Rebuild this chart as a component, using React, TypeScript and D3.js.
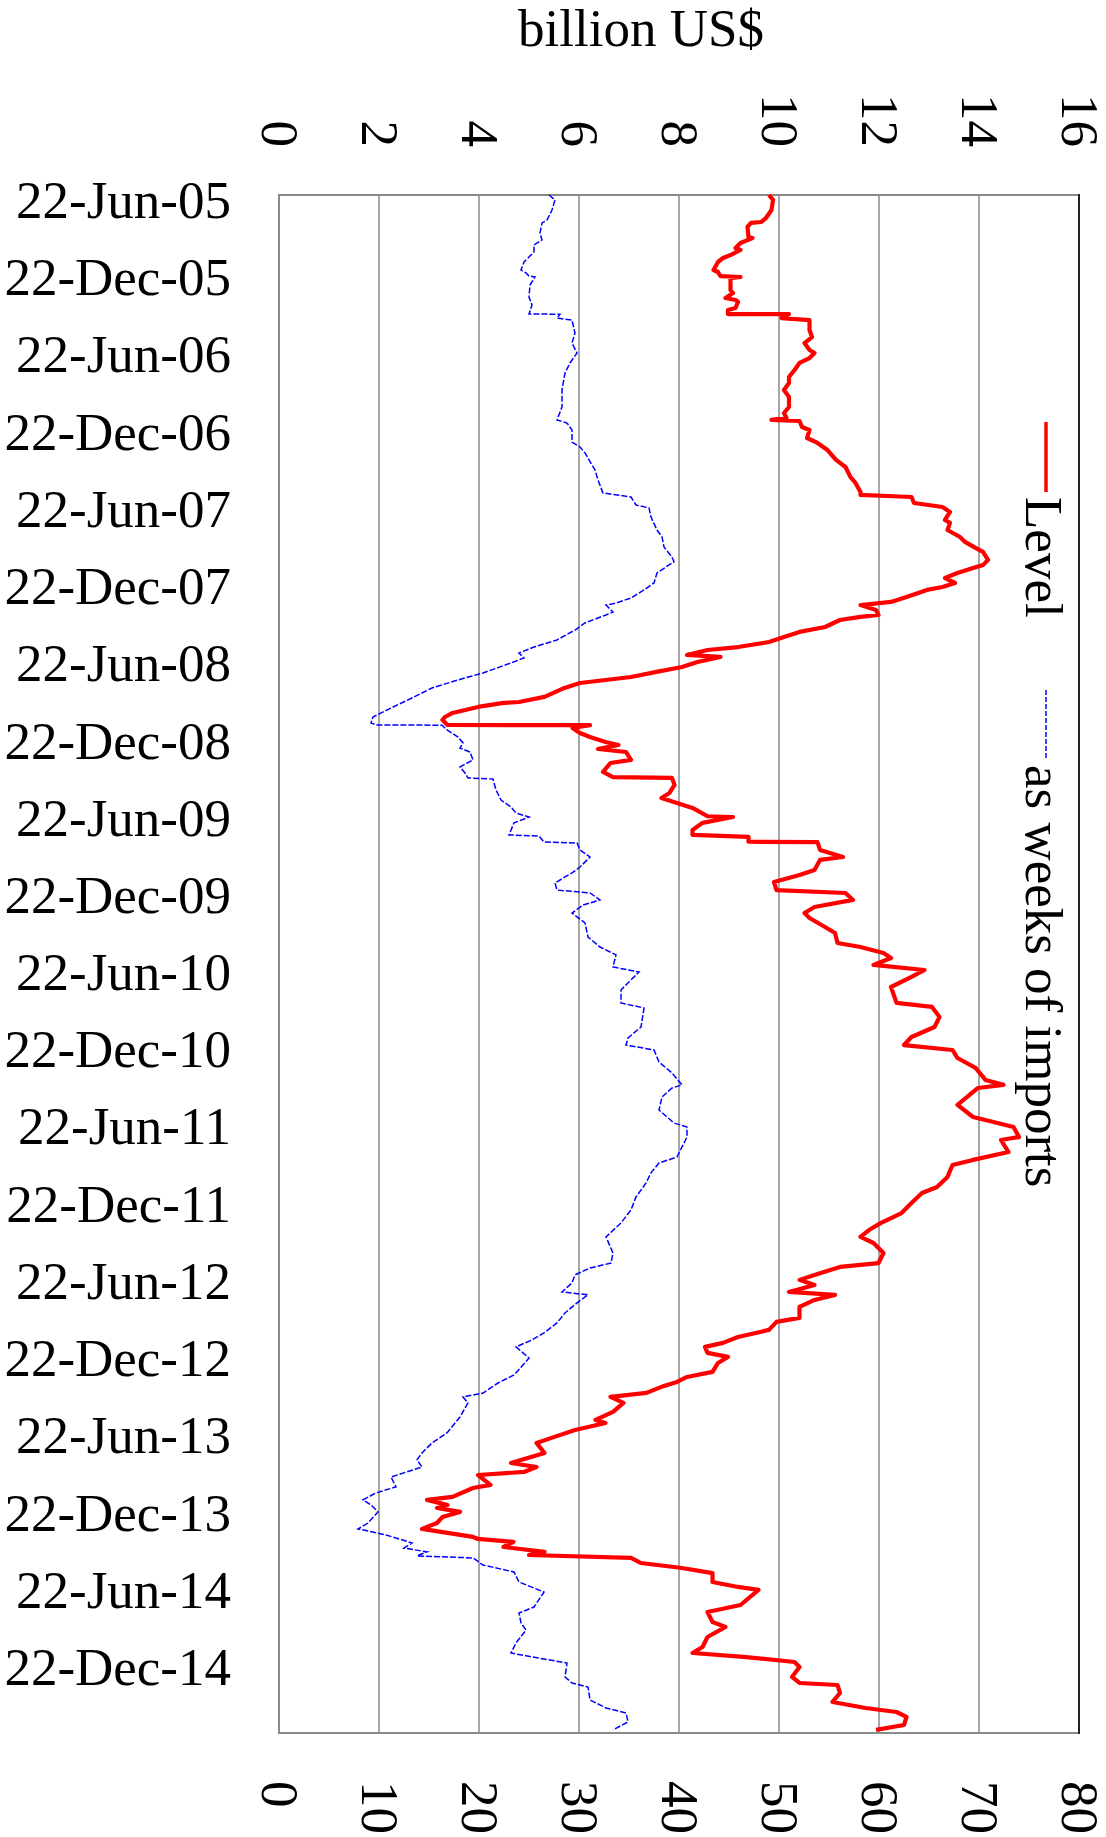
import React from "react";
import * as d3 from "d3";

// ---- data ----
const axisTitle = "billion US$";
const legendLabels = ["Level", "as weeks of imports"];

const dateTickLabels = [
  "22-Jun-05", "22-Dec-05", "22-Jun-06", "22-Dec-06", "22-Jun-07", "22-Dec-07",
  "22-Jun-08", "22-Dec-08", "22-Jun-09", "22-Dec-09", "22-Jun-10", "22-Dec-10",
  "22-Jun-11", "22-Dec-11", "22-Jun-12", "22-Dec-12", "22-Jun-13", "22-Dec-13",
  "22-Jun-14", "22-Dec-14",
];
const levelTicks = [0, 2, 4, 6, 8, 10, 12, 14, 16];
const weeksTicks = [0, 10, 20, 30, 40, 50, 60, 70, 80];
const timeDomain = [2005.471, 2015.433]; // decimal years

// Level, billion US$ : [decimal year, value]
const levelSeries: [number, number][] = [
  [2005.471, 9.80], [2005.503, 9.88], [2005.568, 9.85], [2005.620, 9.74], [2005.646, 9.64],
  [2005.652, 9.44], [2005.678, 9.37], [2005.743, 9.39], [2005.750, 9.47], [2005.782, 9.23],
  [2005.814, 9.13], [2005.827, 9.23], [2005.860, 9.03], [2005.879, 8.88], [2005.905, 8.78],
  [2005.957, 8.69], [2005.970, 8.78], [2005.996, 8.83], [2006.002, 9.23], [2006.009, 9.03],
  [2006.086, 9.03], [2006.106, 9.08], [2006.138, 8.93], [2006.151, 9.13], [2006.164, 9.18],
  [2006.203, 9.13], [2006.216, 8.98], [2006.242, 8.98], [2006.243, 10.20], [2006.268, 10.05],
  [2006.281, 10.61], [2006.345, 10.61], [2006.391, 10.66], [2006.430, 10.51], [2006.475, 10.61],
  [2006.494, 10.71], [2006.527, 10.61], [2006.559, 10.41], [2006.604, 10.31], [2006.650, 10.20],
  [2006.689, 10.20], [2006.734, 10.10], [2006.779, 10.20], [2006.844, 10.20], [2006.883, 10.10],
  [2006.915, 10.15], [2006.928, 9.85], [2006.935, 10.41], [2006.974, 10.46], [2006.993, 10.61],
  [2007.045, 10.56], [2007.077, 10.77], [2007.123, 10.97], [2007.187, 11.14], [2007.233, 11.33],
  [2007.298, 11.43], [2007.336, 11.53], [2007.395, 11.63], [2007.414, 11.63], [2007.427, 12.65],
  [2007.466, 12.70], [2007.492, 13.27], [2007.524, 13.42], [2007.576, 13.32], [2007.595, 13.42],
  [2007.641, 13.37], [2007.686, 13.62], [2007.718, 13.72], [2007.757, 13.93], [2007.783, 14.08],
  [2007.835, 14.18], [2007.867, 14.08], [2007.887, 13.88], [2007.919, 13.57], [2007.952, 13.32],
  [2007.984, 13.52], [2008.010, 13.27], [2008.029, 12.96], [2008.075, 12.55], [2008.107, 12.24],
  [2008.127, 11.63], [2008.159, 11.94], [2008.191, 11.99], [2008.204, 11.63], [2008.224, 11.22],
  [2008.269, 10.92], [2008.301, 10.41], [2008.334, 10.10], [2008.366, 9.80], [2008.399, 9.18],
  [2008.418, 8.57], [2008.450, 8.16], [2008.463, 8.83], [2008.496, 8.37], [2008.528, 8.06],
  [2008.560, 7.55], [2008.593, 7.04], [2008.632, 6.02], [2008.664, 5.71], [2008.722, 5.31],
  [2008.755, 4.80], [2008.761, 4.49], [2008.787, 3.98], [2008.826, 3.47], [2008.852, 3.32],
  [2008.871, 3.27], [2008.904, 3.37], [2008.905, 6.22], [2008.923, 5.87], [2008.956, 6.02],
  [2008.982, 6.22], [2009.014, 6.53], [2009.033, 6.79], [2009.059, 6.38], [2009.079, 6.94],
  [2009.130, 7.04], [2009.150, 6.63], [2009.208, 6.48], [2009.241, 6.68], [2009.247, 7.86],
  [2009.292, 7.91], [2009.344, 7.81], [2009.377, 7.65], [2009.409, 7.96], [2009.441, 8.27],
  [2009.495, 8.57], [2009.500, 9.08], [2009.538, 8.47], [2009.584, 8.27], [2009.616, 8.27],
  [2009.629, 9.39], [2009.660, 9.39], [2009.662, 10.77], [2009.713, 10.82], [2009.759, 11.28],
  [2009.778, 10.82], [2009.843, 10.71], [2009.875, 10.41], [2009.921, 9.90], [2009.973, 9.95],
  [2009.992, 11.33], [2010.037, 11.48], [2010.083, 10.71], [2010.122, 10.51], [2010.154, 10.61],
  [2010.212, 10.92], [2010.251, 11.12], [2010.316, 11.17], [2010.342, 11.63], [2010.381, 12.09],
  [2010.413, 12.24], [2010.458, 11.89], [2010.491, 12.91], [2010.536, 12.65], [2010.601, 12.24],
  [2010.704, 12.35], [2010.730, 13.06], [2010.795, 13.21], [2010.860, 13.11], [2010.925, 12.65],
  [2010.977, 12.50], [2011.009, 13.47], [2011.061, 13.57], [2011.125, 13.93], [2011.203, 14.13],
  [2011.235, 14.49], [2011.255, 13.98], [2011.365, 13.57], [2011.443, 13.88], [2011.475, 14.29],
  [2011.508, 14.69], [2011.573, 14.80], [2011.592, 14.44], [2011.670, 14.59], [2011.721, 13.88],
  [2011.754, 13.47], [2011.831, 13.37], [2011.896, 13.16], [2011.935, 12.86], [2012.000, 12.65],
  [2012.065, 12.45], [2012.129, 12.04], [2012.175, 11.80], [2012.220, 11.63], [2012.259, 11.89],
  [2012.324, 12.09], [2012.389, 11.99], [2012.414, 11.22], [2012.466, 10.71], [2012.498, 10.41],
  [2012.531, 10.71], [2012.576, 10.20], [2012.595, 11.12], [2012.628, 10.71], [2012.673, 10.41],
  [2012.744, 10.41], [2012.770, 9.95], [2012.822, 9.80], [2012.868, 9.18], [2012.906, 8.88],
  [2012.932, 8.52], [2012.971, 8.57], [2012.997, 8.98], [2013.036, 8.78], [2013.094, 8.67],
  [2013.127, 8.16], [2013.159, 7.96], [2013.191, 7.65], [2013.230, 7.35], [2013.256, 6.63],
  [2013.295, 6.89], [2013.353, 6.68], [2013.405, 6.33], [2013.425, 6.53], [2013.470, 5.92],
  [2013.515, 5.51], [2013.554, 5.15], [2013.619, 5.31], [2013.684, 4.64], [2013.710, 5.15],
  [2013.742, 4.90], [2013.762, 3.98], [2013.826, 4.23], [2013.846, 3.88], [2013.904, 3.47],
  [2013.923, 2.96], [2013.956, 3.37], [2013.975, 3.16], [2014.001, 3.62], [2014.034, 3.27],
  [2014.073, 3.16], [2014.111, 2.86], [2014.163, 3.88], [2014.176, 3.98], [2014.195, 4.69],
  [2014.228, 4.49], [2014.260, 5.31], [2014.280, 5.00], [2014.299, 7.04], [2014.332, 7.24],
  [2014.364, 8.06], [2014.397, 8.67], [2014.455, 8.67], [2014.487, 9.18], [2014.506, 9.59],
  [2014.604, 9.23], [2014.649, 8.57], [2014.714, 8.67], [2014.746, 8.93], [2014.811, 8.57],
  [2014.876, 8.47], [2014.915, 8.27], [2014.940, 9.29], [2014.973, 10.31], [2015.005, 10.41],
  [2015.070, 10.26], [2015.109, 10.41], [2015.122, 11.17], [2015.174, 11.22], [2015.232, 11.07],
  [2015.271, 11.73], [2015.297, 12.35], [2015.329, 12.55], [2015.381, 12.50], [2015.413, 11.94],
];

// as weeks of imports : [decimal year, value]
const weeksSeries: [number, number][] = [
  [2005.471, 27.0], [2005.503, 27.6], [2005.568, 27.3], [2005.633, 26.8], [2005.652, 26.3],
  [2005.717, 26.1], [2005.762, 26.3], [2005.795, 25.5], [2005.840, 25.5], [2005.905, 24.5],
  [2005.957, 24.2], [2005.976, 24.7], [2005.996, 25.0], [2006.002, 25.6], [2006.054, 25.1],
  [2006.132, 25.0], [2006.183, 25.3], [2006.242, 25.0], [2006.243, 28.1], [2006.268, 27.8],
  [2006.281, 29.3], [2006.365, 29.6], [2006.430, 29.3], [2006.494, 29.8], [2006.559, 29.1],
  [2006.624, 28.6], [2006.734, 28.3], [2006.844, 28.3], [2006.928, 27.8], [2006.948, 28.8],
  [2006.993, 29.3], [2007.071, 29.3], [2007.103, 30.1], [2007.142, 30.6], [2007.187, 31.0],
  [2007.252, 31.6], [2007.317, 31.9], [2007.401, 32.4], [2007.427, 35.2], [2007.479, 35.7],
  [2007.498, 37.0], [2007.557, 37.2], [2007.641, 37.8], [2007.686, 38.3], [2007.751, 38.5],
  [2007.816, 39.3], [2007.848, 39.5], [2007.867, 39.0], [2007.919, 37.8], [2007.984, 37.5],
  [2008.029, 36.5], [2008.081, 35.2], [2008.114, 33.7], [2008.127, 32.7], [2008.172, 33.4],
  [2008.191, 32.7], [2008.243, 30.6], [2008.289, 29.6], [2008.353, 27.8], [2008.399, 25.5],
  [2008.437, 24.0], [2008.470, 24.5], [2008.502, 23.2], [2008.567, 20.4], [2008.612, 17.9],
  [2008.664, 15.3], [2008.729, 13.3], [2008.794, 11.2], [2008.852, 9.4], [2008.891, 9.2],
  [2008.904, 9.7], [2008.905, 16.3], [2008.936, 16.8], [2008.982, 17.9], [2009.020, 18.4],
  [2009.053, 18.1], [2009.079, 19.1], [2009.130, 19.4], [2009.176, 18.1], [2009.215, 18.6],
  [2009.247, 18.9], [2009.254, 21.4], [2009.325, 21.7], [2009.390, 22.2], [2009.435, 23.2],
  [2009.474, 23.7], [2009.500, 25.0], [2009.538, 23.5], [2009.616, 23.0], [2009.623, 26.0],
  [2009.662, 26.5], [2009.668, 29.8], [2009.713, 30.1], [2009.759, 31.1], [2009.824, 30.1],
  [2009.862, 29.3], [2009.927, 27.6], [2009.973, 27.8], [2009.992, 31.1], [2010.037, 32.1],
  [2010.070, 30.4], [2010.122, 29.3], [2010.186, 30.6], [2010.277, 30.9], [2010.342, 32.1],
  [2010.393, 33.7], [2010.471, 33.4], [2010.504, 36.0], [2010.555, 35.2], [2010.620, 34.2],
  [2010.704, 34.2], [2010.737, 36.5], [2010.860, 36.2], [2010.931, 34.9], [2010.977, 34.7],
  [2011.009, 37.5], [2011.087, 38.0], [2011.158, 39.3], [2011.235, 40.3], [2011.255, 39.3],
  [2011.313, 38.3], [2011.398, 38.0], [2011.482, 39.5], [2011.508, 40.8], [2011.573, 40.8],
  [2011.637, 40.3], [2011.702, 39.8], [2011.741, 38.0], [2011.805, 37.2], [2011.870, 36.7],
  [2011.961, 35.7], [2012.045, 35.2], [2012.129, 34.2], [2012.220, 32.7], [2012.324, 33.4],
  [2012.389, 33.2], [2012.421, 31.1], [2012.466, 29.6], [2012.518, 29.3], [2012.576, 28.3],
  [2012.595, 30.9], [2012.647, 29.8], [2012.712, 28.6], [2012.777, 27.8], [2012.842, 26.5],
  [2012.887, 25.3], [2012.932, 23.7], [2013.004, 25.0], [2013.114, 23.5], [2013.166, 21.9],
  [2013.231, 20.4], [2013.256, 18.4], [2013.295, 18.9], [2013.386, 18.1], [2013.489, 16.8],
  [2013.554, 15.3], [2013.619, 14.3], [2013.664, 13.8], [2013.710, 14.3], [2013.775, 11.2],
  [2013.839, 11.7], [2013.878, 9.7], [2013.923, 8.4], [2013.956, 9.2], [2014.001, 9.9],
  [2014.073, 8.9], [2014.111, 7.9], [2014.150, 10.7], [2014.202, 13.3], [2014.235, 12.5],
  [2014.260, 14.8], [2014.286, 13.8], [2014.299, 19.4], [2014.345, 20.4], [2014.390, 23.5],
  [2014.455, 24.0], [2014.520, 26.5], [2014.617, 25.5], [2014.656, 24.0], [2014.720, 24.2],
  [2014.766, 24.7], [2014.850, 23.7], [2014.915, 23.2], [2014.948, 26.0], [2014.980, 28.8],
  [2015.070, 28.6], [2015.109, 29.3], [2015.135, 30.9], [2015.219, 31.1], [2015.271, 32.7],
  [2015.303, 34.7], [2015.361, 34.9], [2015.413, 33.4],
];

// ---- helpers ----
const parseTick = d3.timeParse("%d-%b-%y");
function toDecimalYear(d: Date): number {
  const y = d.getFullYear();
  const start = new Date(y, 0, 1).getTime();
  const end = new Date(y + 1, 0, 1).getTime();
  return y + (d.getTime() - start) / (end - start);
}

const W = 1106;
const H = 1837;
const plot = { left: 279, right: 1079, top: 195, bottom: 1733 };
const FONT = "'Liberation Serif', 'Times New Roman', Times, serif";
const FS = 53;

export default function App() {
  const timeScale = d3.scaleLinear().domain(timeDomain).range([plot.top, plot.bottom]);
  const levelScale = d3.scaleLinear().domain([0, 16]).range([plot.left, plot.right]);
  const weeksScale = d3.scaleLinear().domain([0, 80]).range([plot.left, plot.right]);

  const levelLine = d3
    .line<[number, number]>()
    .x((d) => levelScale(d[1]))
    .y((d) => timeScale(d[0]));
  const weeksLine = d3
    .line<[number, number]>()
    .x((d) => weeksScale(d[1]))
    .y((d) => timeScale(d[0]));

  const grid = "#8a8a8a";

  return (
    <svg
      width={W}
      height={H}
      viewBox={`0 0 ${W} ${H}`}
      style={{ position: "absolute", left: 0, top: 0, display: "block", background: "#fff" }}
      fontFamily={FONT}
    >
      <rect x={0} y={0} width={W} height={H} fill="#fff" />
      {/* title */}
      <text x={641} y={46} fontSize={FS} textAnchor="middle" fill="#000">
        {axisTitle}
      </text>

      {/* gridlines */}
      {levelTicks.slice(1, -1).map((t) => (
        <line
          key={"g" + t}
          x1={levelScale(t)}
          x2={levelScale(t)}
          y1={plot.top}
          y2={plot.bottom}
          stroke={grid}
          strokeWidth={1.5}
        />
      ))}
      <rect
        x={plot.left}
        y={plot.top}
        width={plot.right - plot.left}
        height={plot.bottom - plot.top}
        fill="none"
        stroke={grid}
        strokeWidth={2}
      />
      <line
        x1={plot.right}
        x2={plot.right}
        y1={plot.top - 1}
        y2={plot.bottom + 1}
        stroke="#000"
        strokeWidth={1.5}
      />

      {/* top axis labels (rotated) */}
      {levelTicks.map((t) => {
        const x = levelScale(t);
        const y = 147;
        return (
          <text
            key={"lt" + t}
            x={x}
            y={y}
            dy="0.33em"
            fontSize={FS}
            textAnchor="end"
            transform={`rotate(90, ${x}, ${y})`}
          >
            {t}
          </text>
        );
      })}

      {/* bottom axis labels (rotated) */}
      {weeksTicks.map((t) => {
        const x = weeksScale(t);
        const y = 1781;
        return (
          <text
            key={"wt" + t}
            x={x}
            y={y}
            dy="0.33em"
            fontSize={FS}
            textAnchor="start"
            transform={`rotate(90, ${x}, ${y})`}
          >
            {t}
          </text>
        );
      })}

      {/* date labels */}
      {dateTickLabels.map((lab) => {
        const d = parseTick(lab) as Date;
        const y = timeScale(toDecimalYear(d)) + 4.5;
        return (
          <text key={lab} x={231} y={y} dy="0.35em" fontSize={FS} textAnchor="end">
            {lab}
          </text>
        );
      })}

      {/* series */}
      <path
        d={weeksLine(weeksSeries) || ""}
        fill="none"
        stroke="#0000ff"
        strokeWidth={1.5}
        strokeDasharray="6,2"
      />
      <path
        d={levelLine(levelSeries) || ""}
        fill="none"
        stroke="#ff0000"
        strokeWidth={4.2}
        strokeLinejoin="round"
      />

      {/* legend */}
      <line x1={1046} x2={1046} y1={422} y2={492} stroke="#ff0000" strokeWidth={3.5} />
      <text x={1026} y={497} fontSize={FS} transform="rotate(90, 1026, 497)">
        {legendLabels[0]}
      </text>
      <line
        x1={1046}
        x2={1046}
        y1={690}
        y2={758}
        stroke="#0000ff"
        strokeWidth={1.5}
        strokeDasharray="5,2"
      />
      <text x={1026} y={765} fontSize={FS} transform="rotate(90, 1026, 765)">
        {legendLabels[1]}
      </text>
    </svg>
  );
}
